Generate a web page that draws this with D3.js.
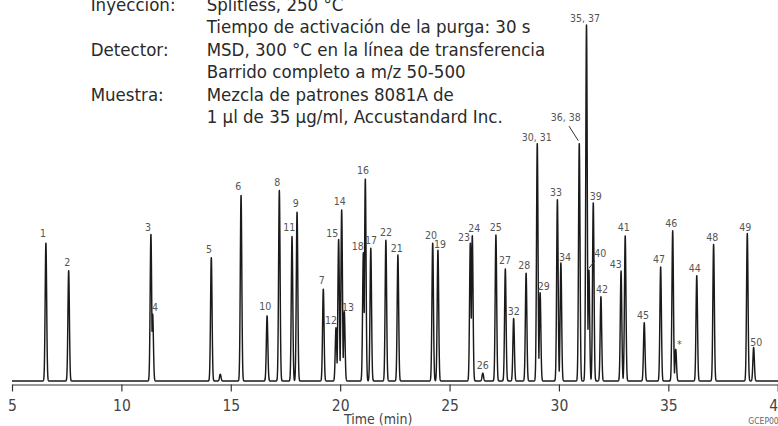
<!DOCTYPE html>
<html>
<head>
<meta charset="utf-8">
<script src="https://cdn.jsdelivr.net/npm/d3@7"></script>
<style>
  html, body { margin: 0; padding: 0; background: #fff; }
  svg { display: block; }
  .narrow { font-family: "Liberation Sans Narrow", "Arial Narrow", "DejaVu Sans Condensed", sans-serif; }
</style>
</head>
<body>
<svg id="chart" width="778" height="426"></svg>
<script>
// ---- Data ----
const peakLabels = ["1","2","3","4","5","","6","10","8","11","9","7","12","15","14","13","18","16","17","22","21","20","19","23","24","26","25","27","32","28","30, 31","29","33","34","36, 38","35, 37","40","39","42","43","41","45","47","46","*","44","48","49","50"];
const peakTimes  = [6.55,7.59,11.35,11.43,14.11,14.52,15.47,16.66,17.22,17.80,18.03,19.23,19.81,19.93,20.07,20.19,21.06,21.15,21.40,22.09,22.64,24.23,24.47,25.95,26.04,26.52,27.12,27.55,27.93,28.50,29.01,29.14,29.93,30.09,30.93,31.26,31.37,31.57,31.92,32.84,33.03,33.90,34.65,35.20,35.34,36.30,37.07,38.61,38.90];
const peakHeights = [38.8,31.0,41.2,18.8,34.7,1.9,52.2,18.3,53.5,40.6,47.5,25.8,15.0,39.8,48.1,19.5,36.0,56.8,37.3,39.6,35.4,38.8,36.8,38.8,40.8,2.2,41.0,31.5,17.6,30.3,66.8,24.8,51.0,33.2,66.8,100,31.2,50.1,23.7,30.9,40.8,16.4,32.1,42.2,8.9,29.6,38.4,41.5,9.4];
// label anchor (time, height) in data units
const labelTimes   = [6.417,7.528,11.217,11.537,14.005,null,15.344,16.578,17.127,17.676,17.968,19.157,19.582,19.641,19.979,20.359,20.802,21.044,21.410,22.096,22.585,24.153,24.564,25.661,26.132,26.516,27.110,27.535,27.933,28.418,28.984,29.304,29.866,30.278,30.310,31.192,31.892,31.681,31.969,32.595,32.961,33.843,34.575,35.137,35.502,36.206,37.011,38.520,39.023];
const labelHeights = [41.6,33.5,43.3,20.6,37.0,null,54.6,20.9,55.7,43.1,49.9,28.2,17.0,41.4,50.6,20.6,38.0,59.1,39.5,41.7,37.4,41.0,38.5,40.5,42.9,4.3,43.1,33.8,19.7,32.4,68.6,26.5,52.9,34.9,74.1,101.9,36.0,52.0,25.8,32.8,43.3,18.5,34.3,44.3,10.4,31.8,40.5,43.3,11.0];
// leader lines [t1,h1,t2,h2]
const leaders = [[30.461,71.6,30.886,67.5],[31.635,33.7,31.375,31.7]];
const xTicks = [5,10,15,20,25,30,35,40];
const headerKeys = ["Inyección:","","Detector:","","Muestra:",""];
const headerVals = ["Splitless, 250 °C","Tiempo de activación de la purga: 30 s","MSD, 300 °C en la línea de transferencia","Barrido completo a m/z 50-500","Mezcla de patrones 8081A de","1 µl de 35 µg/ml, Accustandard Inc."];

// ---- Drawing ----
const svg = d3.select("#chart");
const x = d3.scaleLinear().domain([5, 40]).range([12, 777.7]);
const y = d3.scaleLinear().domain([0, 100]).range([381, 25]);

// header
const hdr = svg.append("g").attr("class", "narrow").attr("fill", "#2a2a2a").attr("font-size", 18.5);
headerKeys.forEach((k, i) => {
  const by = 10.8 + 22.5 * i;
  if (k) hdr.append("text").attr("x", 90.7).attr("y", by).text(k);
  hdr.append("text").attr("x", 206.7).attr("y", by).attr("textLength", null).text(headerVals[i]);
});

// trace
const sigma = 0.034;
const samples = [];
for (let t = 5.0; t <= 40.5; t += 0.004) {
  let v = 0;
  for (let i = 0; i < peakTimes.length; i++) {
    const d = (t - peakTimes[i]) / sigma;
    if (Math.abs(d) < 8) v = Math.max(v, peakHeights[i] * Math.exp(-0.5 * d * d));
  }
  samples.push([t, v]);
}
const line = d3.line().x(d => x(d[0])).y(d => y(d[1]));
svg.append("path").datum(samples).attr("d", line)
  .attr("fill", "none").attr("stroke", "#1a1a1a").attr("stroke-width", 1.45).attr("stroke-linejoin", "round");

// labels
const lab = svg.append("g").attr("class", "narrow").attr("fill", "#555").attr("font-size", 10.5).attr("text-anchor", "middle");
peakLabels.forEach((l, i) => {
  if (!l) return;
  lab.append("text").attr("x", x(labelTimes[i])).attr("y", y(labelHeights[i])).attr("dy", "0.36em").text(l);
});
svg.append("g").selectAll("line").data(leaders).join("line")
  .attr("x1", d => x(d[0])).attr("y1", d => y(d[1])).attr("x2", d => x(d[2])).attr("y2", d => y(d[3]))
  .attr("stroke", "#333").attr("stroke-width", 1);

// axis
const ax = svg.append("g").attr("transform", "translate(0,384.5)")
  .call(d3.axisBottom(x).tickValues(xTicks).tickFormat(d3.format("d")).tickSize(7).tickSizeOuter(0).tickPadding(8));
ax.select(".domain").attr("stroke", "#333").attr("stroke-width", 1.2);
ax.selectAll(".tick line").attr("stroke", "#333").attr("stroke-width", 1.2);
ax.selectAll(".tick text").attr("class", "narrow").attr("font-size", 15.5).attr("fill", "#444");

svg.append("text").attr("class", "narrow").attr("x", 344).attr("y", 423.5).attr("text-anchor", "start")
  .attr("font-size", 14).attr("fill", "#444").text("Time (min)");
svg.append("text").attr("class", "narrow").attr("x", 748.3).attr("y", 424).attr("font-size", 8.5).attr("fill", "#666").text("GCEP00");
</script>
</body>
</html>
